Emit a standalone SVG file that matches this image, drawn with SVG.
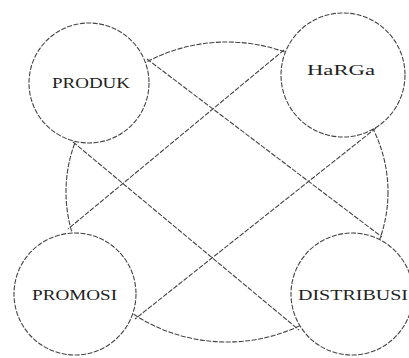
<svg xmlns="http://www.w3.org/2000/svg" width="409" height="358" viewBox="0 0 409 358">
<style>
.ln{fill:none;stroke:#444;stroke-width:1.1;stroke-dasharray:5 1.5}
.nd{fill:#fff;stroke:#444;stroke-width:1.1;stroke-dasharray:5 1.5}
.tx{font-family:"Liberation Serif",serif;font-size:15px;fill:#222;text-anchor:start}
</style>
<rect width="409" height="358" fill="#fff"/>
<g id="connectors">
<ellipse class="ln" cx="227" cy="192" rx="161" ry="150"/>
<line class="ln" x1="147" y1="59" x2="382" y2="237"/>
<line class="ln" x1="73" y1="142" x2="299" y2="330"/>
<line class="ln" x1="284" y1="50" x2="68" y2="229"/>
<line class="ln" x1="376" y1="128" x2="135" y2="319"/>
</g>
<g id="produk">
<circle class="nd" cx="89" cy="83" r="60"/>
<text class="tx" x="52" y="88" textLength="78" lengthAdjust="spacingAndGlyphs">PRODUK</text>
</g>
<g id="harga">
<circle class="nd" cx="343" cy="75" r="62"/>
<text class="tx" x="307" y="75" textLength="68" lengthAdjust="spacingAndGlyphs">HaRGa</text>
</g>
<g id="promosi">
<circle class="nd" cx="75" cy="294" r="61"/>
<text class="tx" x="32" y="300" textLength="85" lengthAdjust="spacingAndGlyphs">PROMOSI</text>
</g>
<g id="distribusi">
<circle class="nd" cx="352" cy="294" r="61"/>
<text class="tx" x="298" y="300" textLength="110" lengthAdjust="spacingAndGlyphs">DISTRIBUSI</text>
</g>
</svg>
